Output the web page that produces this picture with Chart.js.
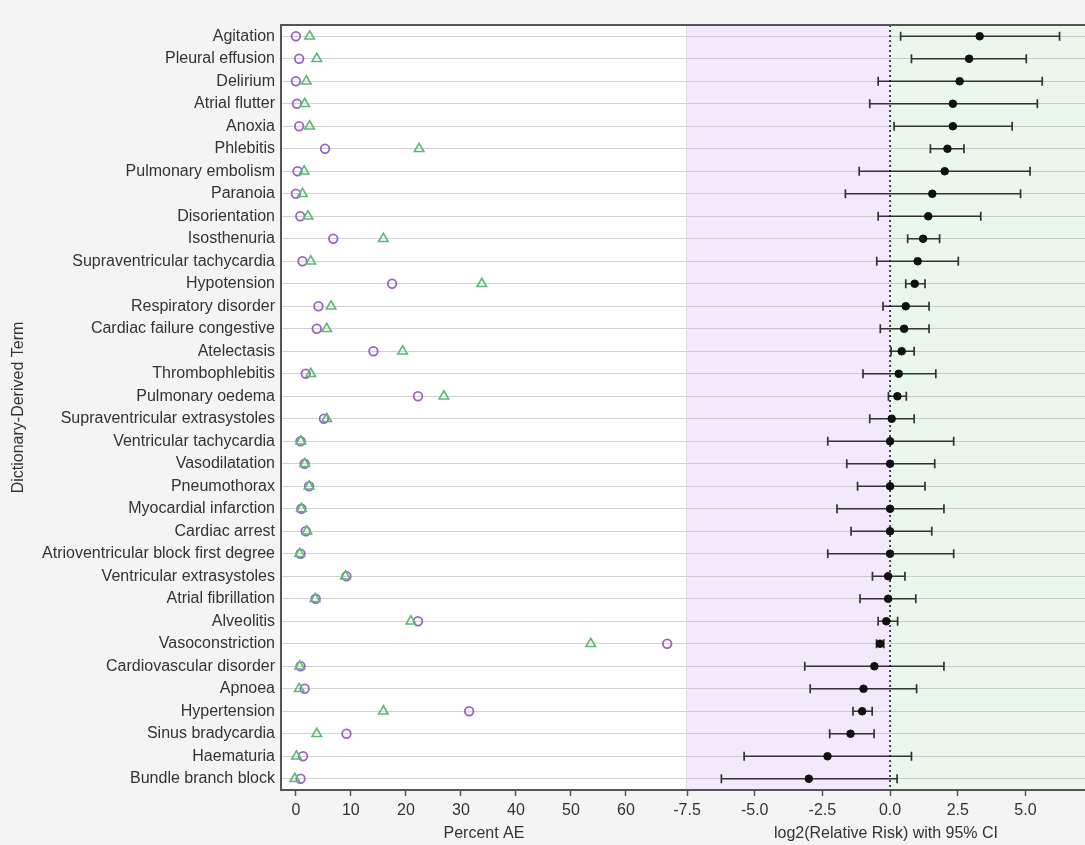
<!DOCTYPE html>
<html>
<head>
<meta charset="utf-8">
<script src="https://cdn.jsdelivr.net/npm/chart.js@4.4.0/dist/chart.umd.min.js"></script>
<style>
  html, body { margin: 0; padding: 0; background: #f4f4f4; }
  #wrap { position: relative; width: 1085px; height: 845px; overflow: hidden; }
  #left { position: absolute; left: 0; top: 0; }
  #right { position: absolute; left: 640px; top: 0; }
</style>
</head>
<body>
<div id="wrap">
  <canvas id="left" width="687" height="845"></canvas>
  <canvas id="right" width="445" height="845"></canvas>
</div>
<script>
// Termes (de haut en bas)
const terms = [
  'Agitation', 'Pleural effusion', 'Delirium', 'Atrial flutter', 'Anoxia', 'Phlebitis',
  'Pulmonary embolism', 'Paranoia', 'Disorientation', 'Isosthenuria',
  'Supraventricular tachycardia', 'Hypotension', 'Respiratory disorder',
  'Cardiac failure congestive', 'Atelectasis', 'Thrombophlebitis', 'Pulmonary oedema',
  'Supraventricular extrasystoles', 'Ventricular tachycardia', 'Vasodilatation',
  'Pneumothorax', 'Myocardial infarction', 'Cardiac arrest',
  'Atrioventricular block first degree', 'Ventricular extrasystoles', 'Atrial fibrillation',
  'Alveolitis', 'Vasoconstriction', 'Cardiovascular disorder', 'Apnoea', 'Hypertension',
  'Sinus bradycardia', 'Haematuria', 'Bundle branch block'
];

// Percent AE - cercles (violet) et triangles (vert)
const pctCircle = [
  0, 0.6, 0, 0.2, 0.6, 5.3, 0.3, 0, 0.8, 6.8,
  1.2, 17.5, 4.1, 3.8, 14.1, 1.8, 22.2, 5.1, 0.85, 1.6,
  2.4, 1.0, 1.8, 0.85, 9.2, 3.6, 22.2, 67.5, 0.85, 1.6,
  31.5, 9.2, 1.3, 0.85
];
const pctTriangle = [
  2.5, 3.8, 1.9, 1.6, 2.5, 22.4, 1.5, 1.2, 2.2, 15.9,
  2.7, 33.8, 6.4, 5.6, 19.4, 2.7, 26.9, 5.6, 0.9, 1.6,
  2.4, 1.0, 2.0, 0.7, 9.0, 3.5, 20.9, 53.6, 0.7, 0.6,
  15.9, 3.8, 0.1, -0.2
];

// log2(Relative Risk) avec IC 95%
const rrPoint = [
  3.31, 2.92, 2.57, 2.32, 2.32, 2.12, 2.02, 1.56, 1.41, 1.22,
  1.02, 0.91, 0.58, 0.52, 0.43, 0.32, 0.27, 0.06, 0, 0,
  0, 0, 0, 0, -0.07, -0.07, -0.14, -0.37, -0.58, -0.98,
  -1.03, -1.46, -2.31, -3.0
];
const rrLow = [
  0.39, 0.79, -0.44, -0.75, 0.15, 1.49, -1.14, -1.65, -0.44, 0.65,
  -0.49, 0.58, -0.26, -0.36, 0.04, -1.0, -0.06, -0.75, -2.3, -1.6,
  -1.2, -1.96, -1.44, -2.3, -0.65, -1.11, -0.44, -0.5, -3.15, -2.95,
  -1.37, -2.23, -5.39, -6.23
];
const rrHigh = [
  6.26, 5.03, 5.62, 5.44, 4.51, 2.73, 5.17, 4.82, 3.35, 1.83,
  2.52, 1.29, 1.44, 1.44, 0.89, 1.69, 0.6, 0.89, 2.35, 1.65,
  1.29, 1.99, 1.54, 2.35, 0.55, 0.95, 0.28, -0.23, 1.99, 0.98,
  -0.66, -0.59, 0.79, 0.26
];

const pctTicks = [0, 10, 20, 30, 40, 50, 60];
const rrTicks = [-7.5, -5, -2.5, 0, 2.5, 5];

const FONT = 'Arial, "Liberation Sans", sans-serif';
const TXT = '#333';
const FRAME = '#555';
const GRID = '#d2d2d2';

// fond, barres d'erreur, ligne du haut
const panelPlugin = {
  id: 'panel',
  beforeDraw(chart, args, opts) {
    const { ctx, chartArea: a, scales: { x } } = chart;
    ctx.save();
    if (opts.shade) {
      const z = x.getPixelForValue(0);
      ctx.fillStyle = '#f2eafb';
      ctx.fillRect(a.left, a.top, z - a.left, a.height);
      ctx.fillStyle = '#e9f7ec';
      ctx.fillRect(z, a.top, a.right - z, a.height);
    } else {
      ctx.fillStyle = '#ffffff';
      ctx.fillRect(a.left, a.top, a.width, a.height);
    }
    ctx.restore();
  },
  beforeDatasetsDraw(chart, args, opts) {
    if (!opts.shade) return;
    const { ctx, chartArea: a, scales: { x, y } } = chart;
    ctx.save();
    ctx.strokeStyle = '#333';
    ctx.lineWidth = 1.7;
    terms.forEach((t, i) => {
      const py = y.getPixelForValue(i);
      const x1 = x.getPixelForValue(rrLow[i]);
      const x2 = x.getPixelForValue(rrHigh[i]);
      ctx.beginPath();
      ctx.moveTo(x1, py); ctx.lineTo(x2, py);
      ctx.moveTo(x1, py - 4.5); ctx.lineTo(x1, py + 4.5);
      ctx.moveTo(x2, py - 4.5); ctx.lineTo(x2, py + 4.5);
      ctx.stroke();
    });
    // ligne pointillée à 0
    const z = x.getPixelForValue(0);
    ctx.strokeStyle = '#111';
    ctx.lineWidth = 1.5;
    ctx.setLineDash([2, 3]);
    ctx.beginPath();
    ctx.moveTo(z, a.top); ctx.lineTo(z, a.bottom);
    ctx.stroke();
    ctx.restore();
  },
  afterDraw(chart, args, opts) {
    const { ctx, chartArea: a } = chart;
    ctx.save();
    ctx.strokeStyle = FRAME;
    ctx.lineWidth = 2;
    ctx.beginPath();
    ctx.moveTo(a.left - 1, a.top); ctx.lineTo(a.right, a.top);
    ctx.stroke();
    if (!opts.shade) {
      ctx.strokeStyle = '#dcdcdc';
      ctx.lineWidth = 1;
      ctx.beginPath();
      ctx.moveTo(a.right - 0.5, a.top); ctx.lineTo(a.right - 0.5, a.bottom);
      ctx.stroke();
    }
    ctx.restore();
  }
};

function xAxis(min, max, ticks, title, fmt) {
  return {
    type: 'linear',
    min: min,
    max: max,
    afterBuildTicks: (s) => { s.ticks = ticks.map(v => ({ value: v })); },
    afterFit: (s) => { s.height = 55; },
    grid: { drawOnChartArea: false, drawTicks: true, tickLength: 6, tickColor: FRAME, tickWidth: 1.5 },
    border: { color: FRAME, width: 2 },
    ticks: { color: TXT, font: { family: FONT, size: 16 }, padding: 5, maxRotation: 0, callback: fmt },
    title: { display: true, text: title, color: TXT, font: { family: FONT, size: 16 }, padding: { top: 0, bottom: 2 } }
  };
}

Chart.defaults.animation = false;

// Panneau gauche : Percent AE
new Chart(document.getElementById('left'), {
  type: 'scatter',
  data: {
    labels: terms,
    datasets: [
      {
        label: 'Triangle',
        data: terms.map((t, i) => ({ x: pctTriangle[i], y: t })),
        pointStyle: 'triangle',
        pointRadius: 5.5,
        borderColor: '#5cba78',
        backgroundColor: 'rgba(0,0,0,0)',
        borderWidth: 1.6
      },
      {
        label: 'Circle',
        data: terms.map((t, i) => ({ x: pctCircle[i], y: t })),
        pointStyle: 'circle',
        pointRadius: 4.3,
        borderColor: '#9a62c6',
        backgroundColor: 'rgba(0,0,0,0)',
        borderWidth: 1.8
      }
    ]
  },
  options: {
    responsive: false,
    events: [],
    layout: { autoPadding: false, padding: { top: 25, left: 0, right: 0, bottom: 0 } },
    plugins: { legend: { display: false }, tooltip: { enabled: false }, panel: { shade: false } },
    scales: {
      x: xAxis(-2.7, 71.1, pctTicks, 'Percent AE', v => String(v)),
      y: {
        type: 'category',
        labels: terms,
        offset: true,
        afterFit: (s) => { s.width = 281; },
        grid: { color: GRID, drawTicks: false, offset: false },
        border: { color: FRAME, width: 2 },
        ticks: { color: TXT, font: { family: FONT, size: 16 }, padding: 6, autoSkip: false },
        title: { display: true, text: 'Dictionary-Derived Term', color: TXT, font: { family: FONT, size: 16 }, padding: { top: 9, bottom: 0 } }
      }
    }
  },
  plugins: [panelPlugin]
});

// Panneau droit : log2(Relative Risk)
new Chart(document.getElementById('right'), {
  type: 'scatter',
  data: {
    labels: terms,
    datasets: [{
      label: 'log2 RR',
      data: terms.map((t, i) => ({ x: rrPoint[i], y: t })),
      pointRadius: 3.8,
      backgroundColor: '#111',
      borderColor: '#111',
      borderWidth: 1
    }]
  },
  options: {
    responsive: false,
    events: [],
    layout: { autoPadding: false, padding: { top: 25, left: 47, right: 0, bottom: 0 } },
    plugins: { legend: { display: false }, tooltip: { enabled: false }, panel: { shade: true } },
    scales: {
      x: xAxis(-7.5, 7.2, rrTicks, 'log2(Relative Risk) with 95% CI', v => Number(v).toFixed(1)),
      y: {
        type: 'category',
        labels: terms,
        offset: true,
        afterFit: (s) => { s.width = 0; },
        grid: { color: '#cbcbcb', drawTicks: false, offset: false },
        border: { display: false },
        ticks: { display: false }
      }
    }
  },
  plugins: [panelPlugin]
});
</script>
</body>
</html>
